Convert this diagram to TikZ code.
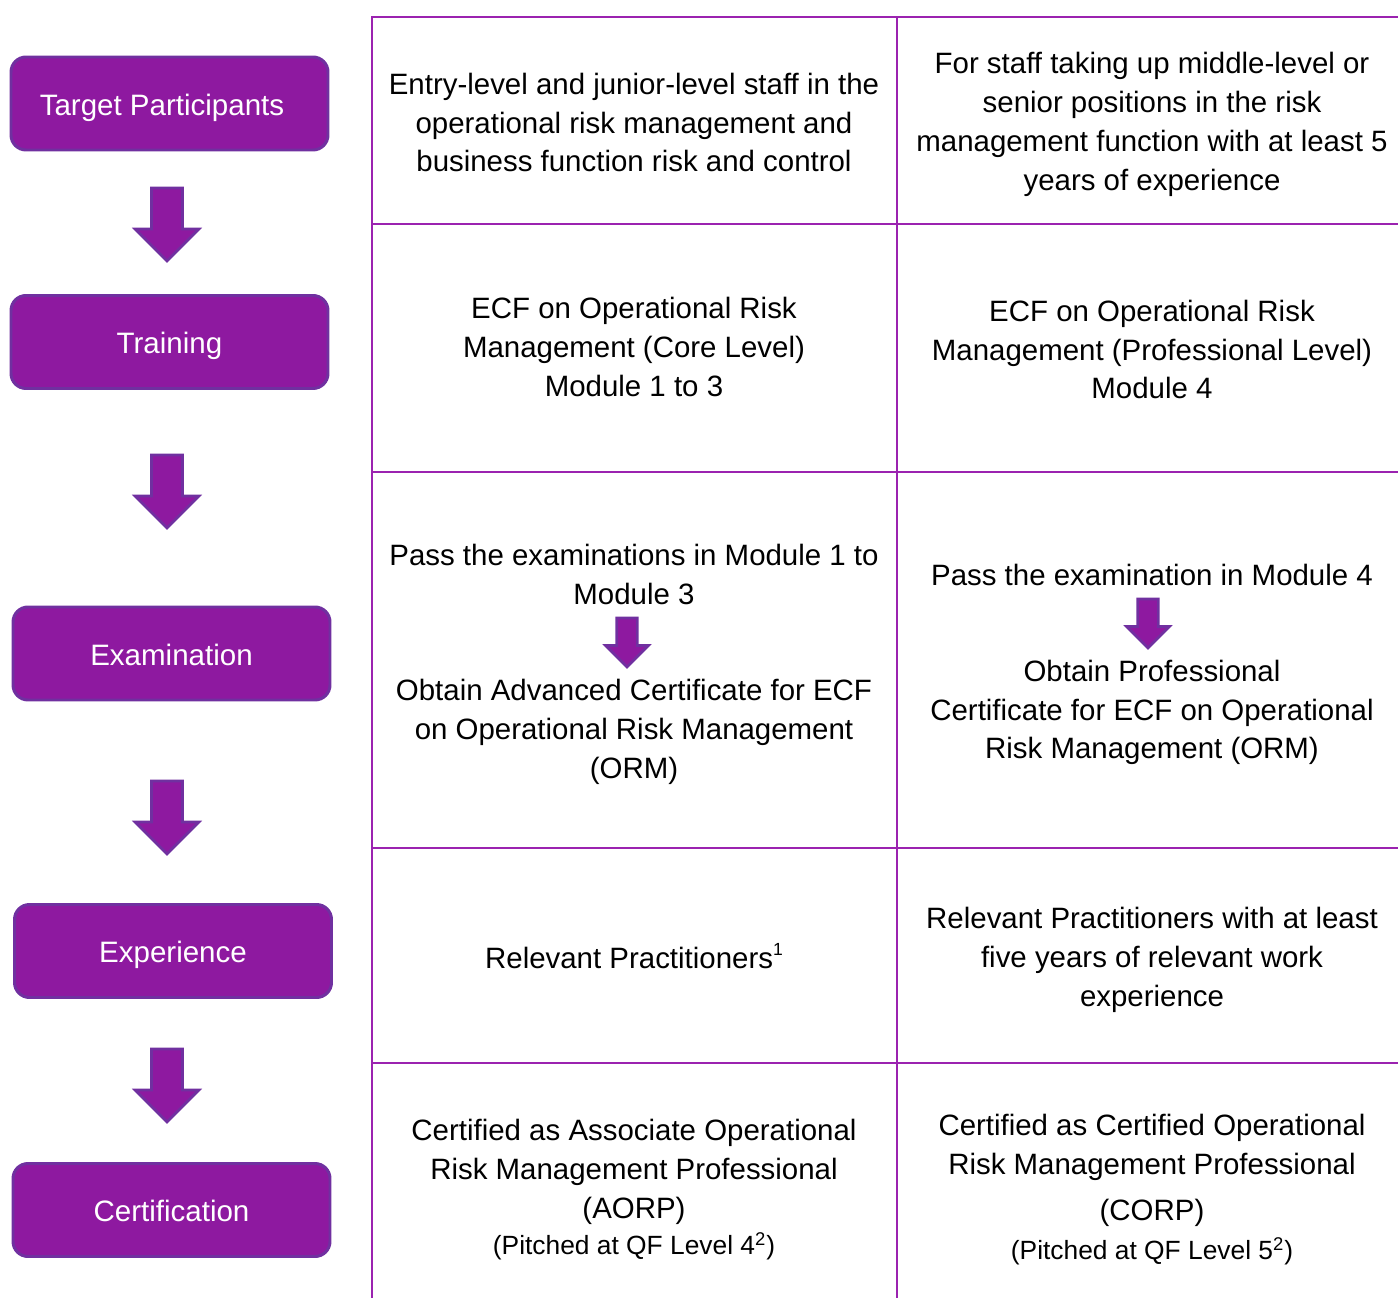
\documentclass[tikz,border=0pt]{standalone}
\usepackage{fontspec}
\setmainfont{Liberation Sans}
\usepackage{tikz}
\usepackage{xcolor}

\definecolor{boxfill}{HTML}{8E19A0}
\definecolor{boxline}{HTML}{7030A0}
\definecolor{tline}{HTML}{9B23B0}

\tikzset{
  stage/.style={draw=boxline, line width=1.7pt, fill=boxfill, rounded corners=0.3cm,
    minimum width=6.34cm, minimum height=1.86cm, text=white,
    text height=13.5pt, text depth=0pt,
    font=\fontsize{16.8pt}{22pt}\selectfont},
  cell/.style={align=center, font=\fontsize{16.75pt}{22.1pt}\selectfont},
  note/.style={align=center, font=\fontsize{15pt}{18pt}\selectfont},
  pics/flow/.style={code={
    \draw[draw=boxline, fill=boxfill, line width=1.5pt]
      (-0.31,0) -- (0.31,0) -- (0.31,-0.82) -- (0.64,-0.82) -- (0,-1.46)
      -- (-0.64,-0.82) -- (-0.31,-0.82) -- cycle;
  }}
}

\begin{document}
\begin{tikzpicture}
  \useasboundingbox (0,0) rectangle (27.96,-25.96);

  % stages
  \node[stage] (tp) at (3.39,-2.07) {\hspace*{-0.3cm}Target Participants};
  \node[stage] (tr) at (3.39,-6.84) {Training};
  \node[stage] (ex) at (3.43,-13.07) {Examination};
  \node[stage] (xp) at (3.46,-19.02) {Experience};
  \node[stage] (ce) at (3.43,-24.20) {Certification};

  \pic at (3.34,-3.76) {flow};
  \pic at (3.34,-9.10) {flow};
  \pic at (3.34,-15.62) {flow};
  \pic at (3.34,-20.98) {flow};

  % table
  \draw[tline, line width=1.1pt] (7.44,-25.96) -- (7.44,-0.34) -- (27.96,-0.34);
  \draw[tline, line width=1.1pt] (17.94,-0.34) -- (17.94,-25.96);
  \foreach \y in {-4.48,-9.44,-16.96,-21.26}
    \draw[tline, line width=1.1pt] (7.44,\y) -- (27.96,\y);

  \node[cell] (c11) at (12.68,-2.45) {Entry-level and junior-level staff in the\\operational risk management and\\business function risk and control};
  \node[cell] (c12) at (23.04,-2.49) {For staff taking up middle-level or\\senior positions in the risk\\management function with at least 5\\years of experience};

  \node[cell] (c21) at (12.68,-6.94) {ECF on Operational Risk\\Management (Core Level)\\Module 1 to 3};
  \node[cell] (c22) at (23.04,-6.99) {ECF on Operational Risk\\Management (Professional Level)\\Module 4};

  \node[cell] (c31) at (12.68,-11.49) {Pass the examinations in Module 1 to\\Module 3};
  \pic[scale=0.67] at (12.54,-12.36) {flow};
  \node[cell] (c31b) at (12.68,-14.64) {Obtain Advanced Certificate for ECF\\on Operational Risk Management\\(ORM)};
  \node[cell] (c32) at (23.04,-11.49) {Pass the examination in Module 4};
  \pic[scale=0.67] at (22.96,-11.98) {flow};
  \node[cell] (c32b) at (23.04,-14.25) {Obtain Professional\\Certificate for ECF on Operational\\Risk Management (ORM)};

  \node[cell] (c41) at (12.68,-19.12) {Relevant Practitioners\raisebox{0.8ex}{\fontsize{10pt}{10pt}\selectfont 1}};
  \node[cell] (c42) at (23.04,-19.20) {Relevant Practitioners with at least\\five years of relevant work\\experience};

  \node[cell] (c51) at (12.68,-23.44) {Certified as Associate Operational\\Risk Management Professional\\(AORP)};
  \node[note] (c51n) at (12.68,-24.92) {(Pitched at QF Level 4\textsuperscript{2})};
  \node[cell] (c52) at (23.04,-22.95) {Certified as Certified Operational\\Risk Management Professional};
  \node[cell] (c52b) at (23.04,-24.26) {(CORP)};
  \node[note] (c52n) at (23.04,-25.02) {(Pitched at QF Level 5\textsuperscript{2})};
\end{tikzpicture}
\end{document}
